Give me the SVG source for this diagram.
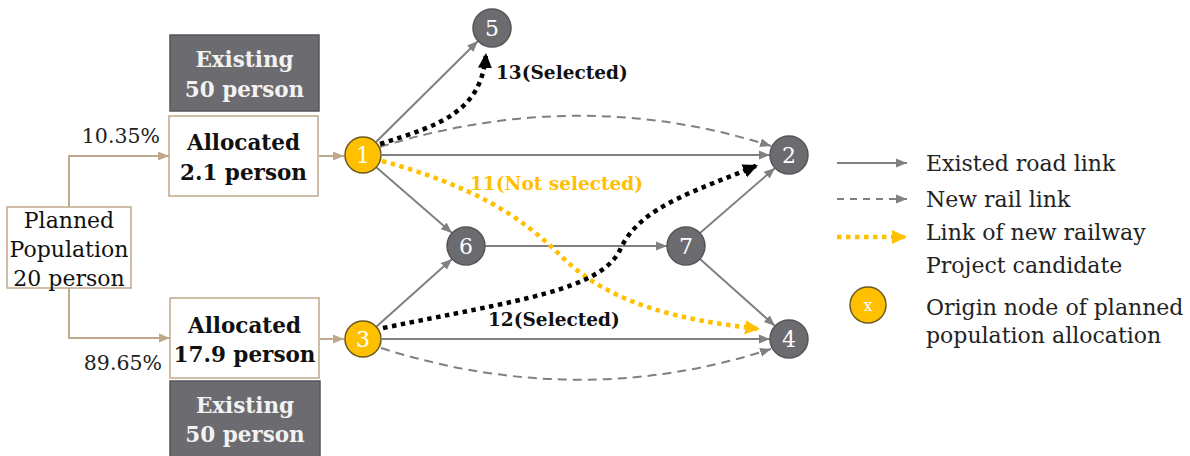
<svg xmlns="http://www.w3.org/2000/svg" width="1190" height="456" viewBox="0 0 1190 456">
<style>
.t{font-family:"DejaVu Serif","Liberation Serif",serif;}
.box{fill:#fff;stroke:#bfa98c;stroke-width:1.5;}
.ex{fill:#6b6b70;stroke:#56565a;stroke-width:1.5;}
.ext{font-family:"DejaVu Serif","Liberation Serif",serif;font-weight:bold;font-size:21.5px;fill:#f2f2f2;text-anchor:middle;}
.al{font-family:"DejaVu Serif","Liberation Serif",serif;font-weight:bold;font-size:21.5px;fill:#111;text-anchor:middle;}
.gn{fill:#6b6b70;stroke:#555;stroke-width:1.5;}
.on{fill:#ffc000;stroke:#6b5a20;stroke-width:1.5;}
.nl{font-family:"DejaVu Serif","Liberation Serif",serif;font-size:22px;fill:#fff;text-anchor:middle;}
.road{stroke:#808080;stroke-width:2;fill:none;marker-end:url(#ag);}
.rail{stroke:#808080;stroke-width:2;fill:none;stroke-dasharray:9 6;marker-end:url(#ag);}
.blk{stroke:#000;stroke-width:4.5;fill:none;stroke-dasharray:4.5 4.5;marker-end:url(#ab);}
.org{stroke:#ffc000;stroke-width:4.5;fill:none;stroke-dasharray:4.5 4.5;marker-end:url(#ao);}
.tan{stroke:#bfa98c;stroke-width:2;fill:none;marker-end:url(#at);}
.lg{font-family:"DejaVu Serif","Liberation Serif",serif;font-size:22px;fill:#222;}
.el{font-family:"DejaVu Serif","Liberation Serif",serif;font-size:18.5px;font-weight:bold;}
</style>
<defs>
<marker id="ag" markerUnits="userSpaceOnUse" markerWidth="12" markerHeight="10" refX="11" refY="5" orient="auto"><path d="M0,0.5 L11,5 L0,9.5 z" fill="#808080"/></marker>
<marker id="at" markerUnits="userSpaceOnUse" markerWidth="12" markerHeight="10" refX="11" refY="5" orient="auto"><path d="M0,0.5 L11,5 L0,9.5 z" fill="#bfa98c"/></marker>
<marker id="ab" markerUnits="userSpaceOnUse" markerWidth="16" markerHeight="16" refX="15" refY="8" orient="auto"><path d="M0,1 L15,8 L0,15 z" fill="#000"/></marker>
<marker id="ao" markerUnits="userSpaceOnUse" markerWidth="16" markerHeight="16" refX="15" refY="8" orient="auto"><path d="M0,1 L15,8 L0,15 z" fill="#ffc000"/></marker>
</defs>
<rect width="1190" height="456" fill="#fff"/>

<g id="connectors">
<path class="tan" d="M69,207 V156 H169"/>
<path class="tan" d="M69,288 V338 H170"/>
<line class="tan" x1="319" y1="156" x2="344" y2="156"/>
<line class="tan" x1="320" y1="339" x2="344" y2="339"/>
<line class="road" x1="376" y1="142" x2="478" y2="41"/>
<line class="road" x1="382" y1="155" x2="770" y2="155"/>
<line class="road" x1="376" y1="167" x2="452" y2="233"/>
<line class="road" x1="376" y1="327" x2="452" y2="259"/>
<line class="road" x1="485" y1="246" x2="667" y2="246"/>
<line class="road" x1="700" y1="233" x2="775" y2="168"/>
<line class="road" x1="700" y1="259" x2="775" y2="326"/>
<line class="road" x1="382" y1="339" x2="770" y2="339"/>
<path class="rail" d="M380,147 Q580,85 771,146"/>
<path class="rail" d="M381,348 Q580,411 771,349"/>
<path class="org" d="M382,161 C470,185 520,215 560,255 C610,305 680,320 760,329"/>
<path class="blk" d="M380,144 C440,125 482,112 486,53"/>
<path class="blk" d="M383,328 C520,300 600,290 620,250 C640,205 700,190 758,165"/>
<text class="el" x="496" y="79" fill="#111">13(Selected)</text>
<text class="el" x="470" y="190" fill="#ffc000">11(Not selected)</text>
<text class="el" x="488" y="326" fill="#111">12(Selected)</text>
<text class="t" x="160" y="143" font-size="20.5" text-anchor="end" fill="#222">10.35%</text>
<text class="t" x="162" y="370" font-size="20.5" text-anchor="end" fill="#222">89.65%</text>
</g>

<g id="planned">
<rect class="box" x="7" y="207" width="124" height="81"/>
<text class="t" font-size="22" fill="#111" text-anchor="middle"><tspan x="69" y="228">Planned</tspan><tspan x="69" y="257">Population</tspan><tspan x="69" y="286">20 person</tspan></text>
</g>
<g id="existing-top">
<rect class="ex" x="170" y="35" width="149" height="76"/>
<text class="ext"><tspan x="244.5" y="67">Existing</tspan><tspan x="244.5" y="97">50 person</tspan></text>
</g>
<g id="allocated-top">
<rect class="box" x="169" y="116" width="149" height="80"/>
<text class="al"><tspan x="243.5" y="150">Allocated</tspan><tspan x="243.5" y="180">2.1 person</tspan></text>
</g>
<g id="allocated-bottom">
<rect class="box" x="170" y="298" width="149" height="80"/>
<text class="al"><tspan x="244.5" y="333">Allocated</tspan><tspan x="244.5" y="362">17.9 person</tspan></text>
</g>
<g id="existing-bottom">
<rect class="ex" x="170" y="381" width="150" height="80"/>
<text class="ext"><tspan x="245" y="413">Existing</tspan><tspan x="245" y="442">50 person</tspan></text>
</g>

<g id="node1"><circle class="on" cx="363" cy="155" r="18"/><text class="nl" x="363" y="163">1</text></g>
<g id="node2"><circle class="gn" cx="789" cy="155" r="19"/><text class="nl" x="789" y="163">2</text></g>
<g id="node3"><circle class="on" cx="363" cy="339" r="18"/><text class="nl" x="363" y="347">3</text></g>
<g id="node4"><circle class="gn" cx="789" cy="339" r="19"/><text class="nl" x="789" y="347">4</text></g>
<g id="node5"><circle class="gn" cx="492" cy="28" r="19"/><text class="nl" x="492" y="36">5</text></g>
<g id="node6"><circle class="gn" cx="466" cy="246" r="19"/><text class="nl" x="466" y="254">6</text></g>
<g id="node7"><circle class="gn" cx="686" cy="246" r="19"/><text class="nl" x="686" y="254">7</text></g>

<g id="legend">
<line class="road" x1="837" y1="163" x2="907" y2="163"/>
<line class="rail" x1="837" y1="199" x2="907" y2="199" style="stroke-dasharray:7 6"/>
<line class="org" x1="837" y1="237" x2="907" y2="237"/>
<circle class="on" cx="868" cy="305" r="18"/>
<text x="868" y="311" font-family="DejaVu Serif, serif" font-size="16" fill="#fff" text-anchor="middle">x</text>
<text class="lg" x="926" y="171">Existed road link</text>
<text class="lg" x="926" y="207">New rail link</text>
<text class="lg"><tspan x="926" y="240">Link of new railway</tspan><tspan x="926" y="273">Project candidate</tspan></text>
<text class="lg"><tspan x="926" y="315">Origin node of planned</tspan><tspan x="926" y="343">population allocation</tspan></text>
</g>
</svg>
